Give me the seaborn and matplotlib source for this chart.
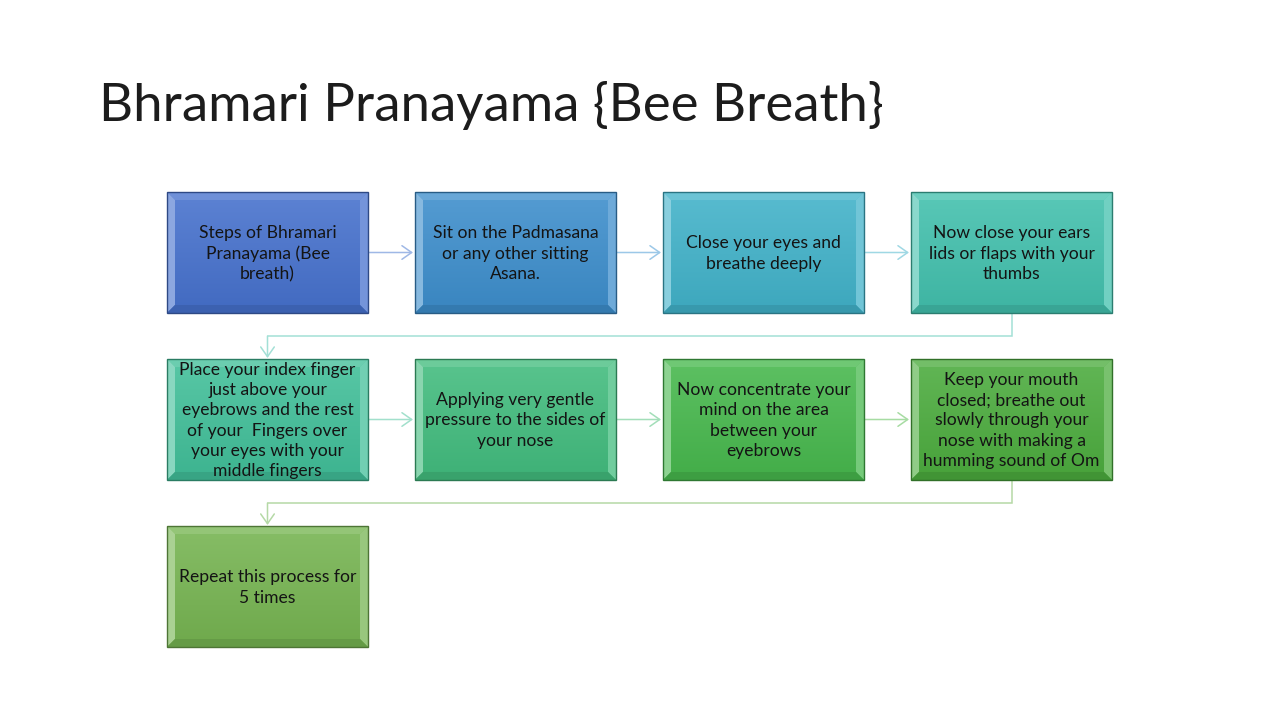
import numpy as np
import matplotlib
matplotlib.use("Agg")
import matplotlib.pyplot as plt
from matplotlib.patches import Rectangle, Polygon
from matplotlib.colors import to_rgb
import seaborn as sns

# ---- data ----
title = "Bhramari Pranayama {Bee Breath}"
steps = [
    "Steps of Bhramari\nPranayama (Bee\nbreath)",
    "Sit on the Padmasana\nor any other sitting\nAsana.",
    "Close your eyes and\nbreathe deeply",
    "Now close your ears\nlids or flaps with your\nthumbs",
    "Place your index finger\njust above your\neyebrows and the rest\nof your  Fingers over\nyour eyes with your\nmiddle fingers",
    "Applying very gentle\npressure to the sides of\nyour nose",
    "Now concentrate your\nmind on the area\nbetween your\neyebrows",
    "Keep your mouth\nclosed; breathe out\nslowly through your\nnose with making a\nhumming sound of Om",
    "Repeat this process for\n5 times",
]
box_colors = ["#4671cd", "#3d8ecc", "#41b2c9", "#42c0ad", "#41bf99",
              "#42bc7e", "#47b84d", "#4cac3e", "#76b451"]
link_colors = ["#9fb8e6", "#9cc8e8", "#9fd8e4", "#a3e0d6", "#a2e0cc",
               "#a3deb9", "#a7dca3", "#b5d9a6"]

sns.set_theme(style="white")
plt.rcParams["font.family"] = ["Lato", "DejaVu Sans"]

fig = plt.figure(figsize=(12.8, 7.2), dpi=100)
ax = fig.add_axes([0, 0, 1, 1])
ax.set_xlim(0, 1280)
ax.set_ylim(720, 0)
ax.axis("off")

# layout
col_x = [167, 415, 663, 911]
row_y = [192, 359, 526]
W, H = 201, 121
B = 8

def lighten(c, f):
    r = np.array(to_rgb(c))
    return tuple(r + (1 - r) * f)

def darken(c, f):
    r = np.array(to_rgb(c))
    return tuple(r * (1 - f))

def draw_box(x0, y0, col, text):
    x1, y1 = x0 + W, y0 + H
    top = np.array(lighten(col, 0.12))
    bot = np.array(darken(col, 0.06))
    t = np.linspace(0, 1, 64)[:, None, None]
    grad = top * (1 - t) + bot * t
    ax.imshow(grad, extent=(x0, x1, y1, y0), origin="upper",
              aspect="auto", interpolation="bilinear", zorder=2)
    # bevels
    ax.add_patch(Polygon([(x0, y0), (x1, y0), (x1 - B, y0 + B), (x0 + B, y0 + B)],
                         closed=True, fc=lighten(col, 0.22), ec="none", zorder=3))
    ax.add_patch(Polygon([(x0, y0), (x0 + B, y0 + B), (x0 + B, y1 - B), (x0, y1)],
                         closed=True, fc=lighten(col, 0.38), ec="none", zorder=3))
    ax.add_patch(Polygon([(x1, y0), (x1, y1), (x1 - B, y1 - B), (x1 - B, y0 + B)],
                         closed=True, fc=lighten(col, 0.25), ec="none", zorder=3))
    ax.add_patch(Polygon([(x0, y1), (x0 + B, y1 - B), (x1 - B, y1 - B), (x1, y1)],
                         closed=True, fc=darken(col, 0.14), ec="none", zorder=3))
    ax.add_patch(Rectangle((x0, y0), W, H, fc="none",
                           ec=darken(col, 0.35), lw=1.0, zorder=4))
    ax.text(x0 + W / 2, y0 + H / 2 + 1, text, ha="center", va="center",
            fontsize=12.6, color="#141414", linespacing=1.33, zorder=5)

def arrow(p_from, p_to, col):
    ax.annotate("", xy=p_to, xytext=p_from,
                arrowprops=dict(arrowstyle="->,head_length=0.5,head_width=0.35",
                                color=col, lw=1.1, shrinkA=0, shrinkB=0,
                                mutation_scale=14), zorder=1)

positions = []
for i in range(len(steps)):
    r, c = divmod(i, 4)
    positions.append((col_x[c], row_y[r]))

# connectors
for i in range(len(steps) - 1):
    x0, y0 = positions[i]
    x1, y1 = positions[i + 1]
    col = link_colors[i]
    if y0 == y1:
        arrow((x0 + W + 1, y0 + H / 2), (x1 - 2, y1 + H / 2), col)
    else:
        cx0 = x0 + W / 2
        cx1 = x1 + W / 2
        mid = (y0 + H + y1) / 2
        ax.plot([cx0, cx0, cx1], [y0 + H, mid, mid], color=col, lw=1.1,
                solid_joinstyle="miter", zorder=1)
        arrow((cx1, mid), (cx1, y1 - 1), col)

for (x, y), col, txt in zip(positions, box_colors, steps):
    draw_box(x, y, col, txt)

ax.text(99, 106, title, ha="left", va="center", fontsize=38,
        fontweight="normal", color="#1c1c1c")

fig.savefig("out.png", dpi=100)
